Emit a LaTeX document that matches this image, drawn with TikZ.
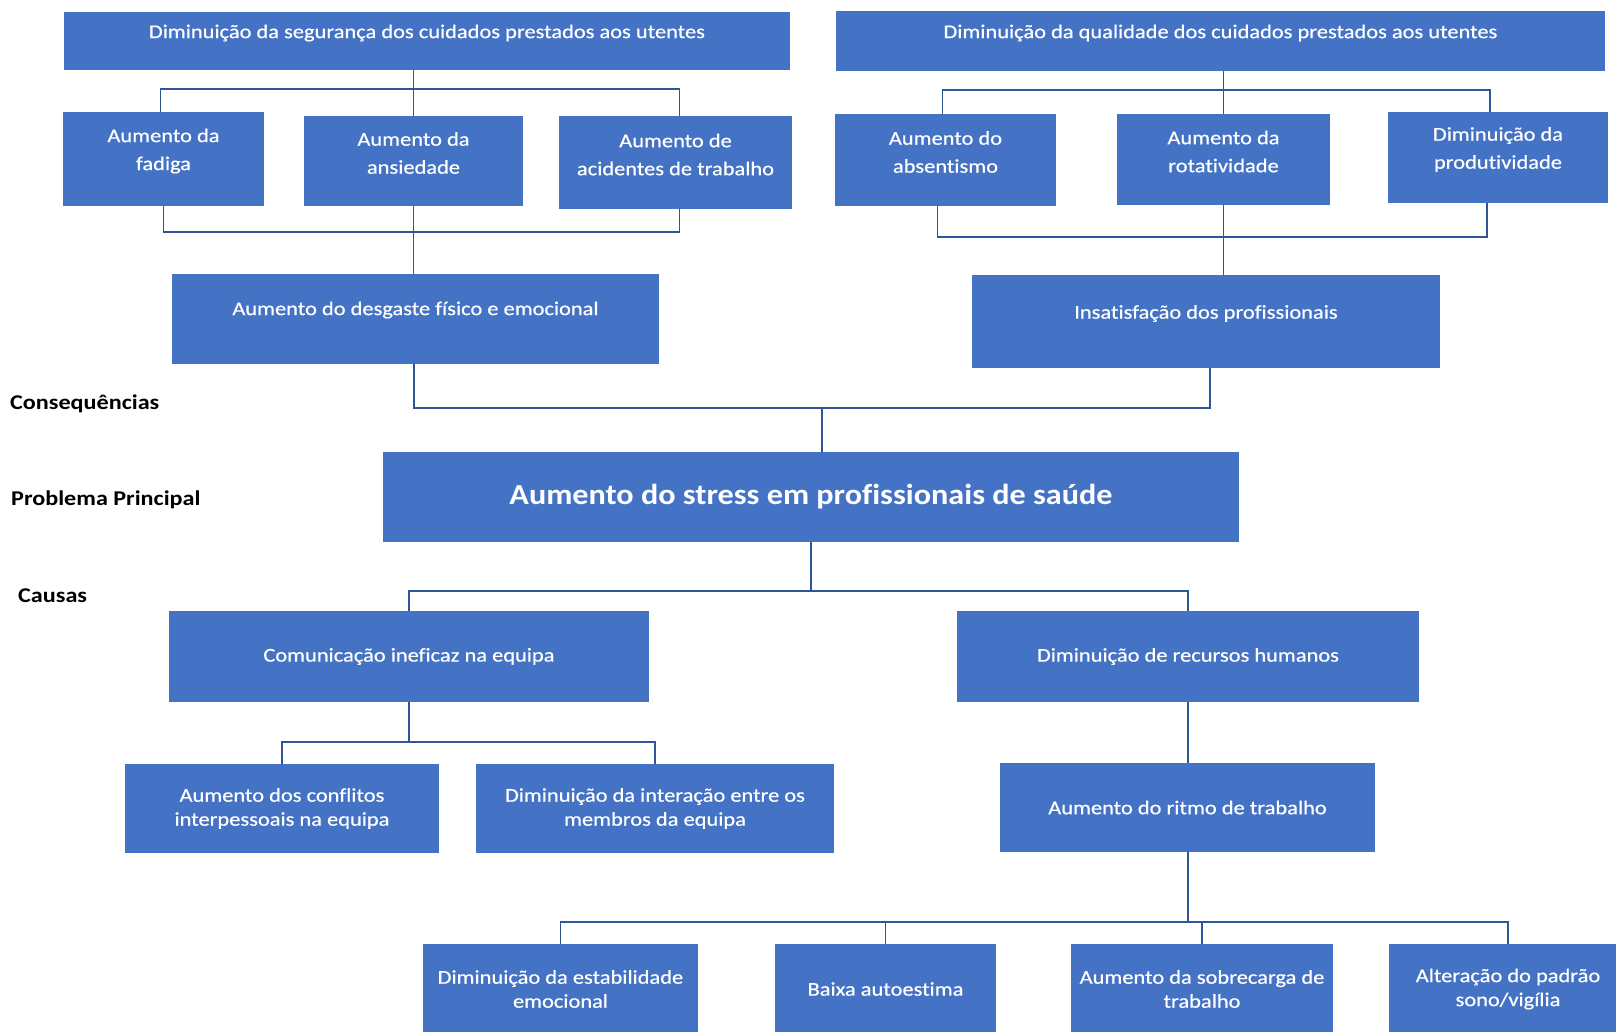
\documentclass[tikz,border=0pt]{standalone}
\usepackage{fontspec}
\setmainfont{Carlito}
\newfontfamily\boxfont[FakeStretch=1.15,FakeBold=0.5,Ligatures=NoCommon]{Carlito}
\newfontfamily\mainfont[FakeStretch=1.11,Ligatures=NoCommon]{Carlito}
\newfontfamily\sidefont[FakeStretch=1.15]{Carlito}
\definecolor{boxblue}{HTML}{4472C4}
\definecolor{linkblue}{HTML}{2F5597}
\begin{document}
\begin{tikzpicture}[x=1pt,y=-1pt,
  bx/.style={fill=boxblue,draw=none,inner sep=0pt},
  tx/.style={text=white,font=\boxfont\fontsize{19.5}{28}\selectfont,align=center,inner sep=0pt},
  txs/.style={text=white,font=\boxfont\fontsize{19.5}{24}\selectfont,align=center,inner sep=0pt},
  side/.style={font=\sidefont\bfseries\fontsize{21}{25}\selectfont,anchor=west,inner sep=0pt},
  link/.style={draw=linkblue,line width=1.3pt}]
\useasboundingbox (0,0) rectangle (1616,1031);
\newcommand{\mybox}[5]{\node[bx,minimum width={#3-#1},minimum height={#4-#2}] (#5) at ({(#1+#3)/2},{(#2+#4)/2}) {};}
% consequences
\mybox{64}{12}{790}{70}{topL}
\mybox{836}{11}{1605}{71}{topR}
\mybox{63}{112}{264}{206}{fad}
\mybox{304}{116}{523}{206}{ans}
\mybox{559}{116}{792}{209}{aci}
\mybox{172}{274}{659}{364}{desg}
\mybox{835}{114}{1056}{206}{abs}
\mybox{1117}{114}{1330}{205}{rot}
\mybox{1388}{112}{1608}{203}{prod}
\mybox{972}{275}{1440}{368}{insat}
% main
\mybox{383}{452}{1239}{542}{main}
% causes
\mybox{169}{611}{649}{702}{com}
\mybox{957}{611}{1419}{702}{rh}
\mybox{125}{764}{439}{853}{conf}
\mybox{476}{764}{834}{853}{inter}
\mybox{1000}{763}{1375}{852}{ritmo}
\mybox{423}{944}{698}{1034}{estab}
\mybox{775}{944}{996}{1034}{baixa}
\mybox{1071}{944}{1333}{1034}{sobre}
\mybox{1389}{944}{1627}{1034}{alt}
% texts
\node[tx] (topL-t) at ([yshift=8]topL.center) {Diminuição da segurança dos cuidados prestados aos utentes};
\node[tx] (topR-t) at ([yshift=8]topR.center) {Diminuição da qualidade dos cuidados prestados aos utentes};
\node[tx] (fad-t) at ([yshift=8]fad.center) {Aumento da\\fadiga};
\node[tx] (ans-t) at ([yshift=8]ans.center) {Aumento da\\ansiedade};
\node[tx] (aci-t) at ([yshift=8]aci.center) {Aumento de\\acidentes de trabalho};
\node[tx] (desg-t) at ([yshift=9]desg.center) {Aumento do desgaste físico e emocional};
\node[tx] (abs-t) at ([yshift=8]abs.center) {Aumento do\\absentismo};
\node[tx] (rot-t) at ([yshift=8]rot.center) {Aumento da\\rotatividade};
\node[tx] (prod-t) at ([yshift=8]prod.center) {Diminuição da\\produtividade};
\node[tx] (insat-t) at ([yshift=8]insat.center) {Insatisfação dos profissionais};
\node[tx,font=\mainfont\bfseries\fontsize{29}{34}\selectfont] (main-t) at (main.center) {Aumento do stress em profissionais de saúde};
\node[tx] (com-t) at (com.center) {Comunicação ineficaz na equipa};
\node[tx] (rh-t) at (rh.center) {Diminuição de recursos humanos};
\node[txs] (conf-t) at (conf.center) {Aumento dos conflitos\\interpessoais na equipa};
\node[txs] (inter-t) at (inter.center) {Diminuição da interação entre os\\membros da equipa};
\node[tx] (ritmo-t) at (ritmo.center) {Aumento do ritmo de trabalho};
\node[txs] (estab-t) at (estab.center) {Diminuição da estabilidade\\emocional};
\node[txs] (baixa-t) at (baixa.center) {Baixa autoestima};
\node[txs] (sobre-t) at (sobre.center) {Aumento da sobrecarga de\\trabalho};
\node[txs] (alt-t) at (alt.center) {Alteração do padrão\\sono/vigília};
% side labels
\node[side] (lcons) at (10,404) {Consequências};
\node[side] (lprob) at (11,500) {Problema Principal};
\node[side] (lcaus) at (18,596) {Causas};
% junction coordinates
\coordinate (b1) at (0,89);
\coordinate (b2) at (0,232);
\coordinate (b3) at (0,90);
\coordinate (b4) at (0,237);
\coordinate (b5) at (822,408);
\coordinate (b6) at (0,591);
\coordinate (b7) at (0,742);
\coordinate (b8) at (0,922);
% top-left group
\draw[link] (topL.south -| ans.north) -- (ans.north);
\draw[link] ([xshift=-3]fad.north) -- ([xshift=-3]fad.north |- b1) -- ([xshift=4]aci.north |- b1) -- ([xshift=4]aci.north);
\draw[link] (fad.south) -- (fad.south |- b2) -- ([xshift=4]aci.south |- b2) -- ([xshift=4]aci.south);
\draw[link] (ans.south) -- (desg.north -| ans.south);
% top-right group
\draw[link] (topR.south -| rot.north) -- (rot.north);
\draw[link] ([xshift=-3]abs.north) -- ([xshift=-3]abs.north |- b3) -- ([xshift=-8]prod.north |- b3) -- ([xshift=-8]prod.north);
\draw[link] ([xshift=-8]abs.south) -- ([xshift=-8]abs.south |- b4) -- ([xshift=-11]prod.south |- b4) -- ([xshift=-11]prod.south);
\draw[link] (rot.south) -- (insat.north -| rot.south);
% to main
\draw[link] ([xshift=-1.5]desg.south) |- (b5) -| ([xshift=4]insat.south);
\draw[link] (b5) -- (main.north -| b5);
% causes
\draw[link] (main.south) -- (main.south |- b6);
\draw[link] (com.north) -- (com.north |- b6) -- (rh.north |- b6) -- (rh.north);
\draw[link] (com.south) -- (com.south |- b7);
\draw[link] (conf.north) -- (conf.north |- b7) -- (inter.north |- b7) -- (inter.north);
\draw[link] (rh.south) -- (ritmo.north -| rh.south);
\draw[link] (ritmo.south -| rh.south) -- (rh.south |- b8);
\draw[link] (estab.north) -- (estab.north |- b8) -- (alt.north |- b8) -- (alt.north);
\draw[link] (baixa.north) -- (baixa.north |- b8);
\draw[link] (sobre.north) -- (sobre.north |- b8);
\end{tikzpicture}
\end{document}
